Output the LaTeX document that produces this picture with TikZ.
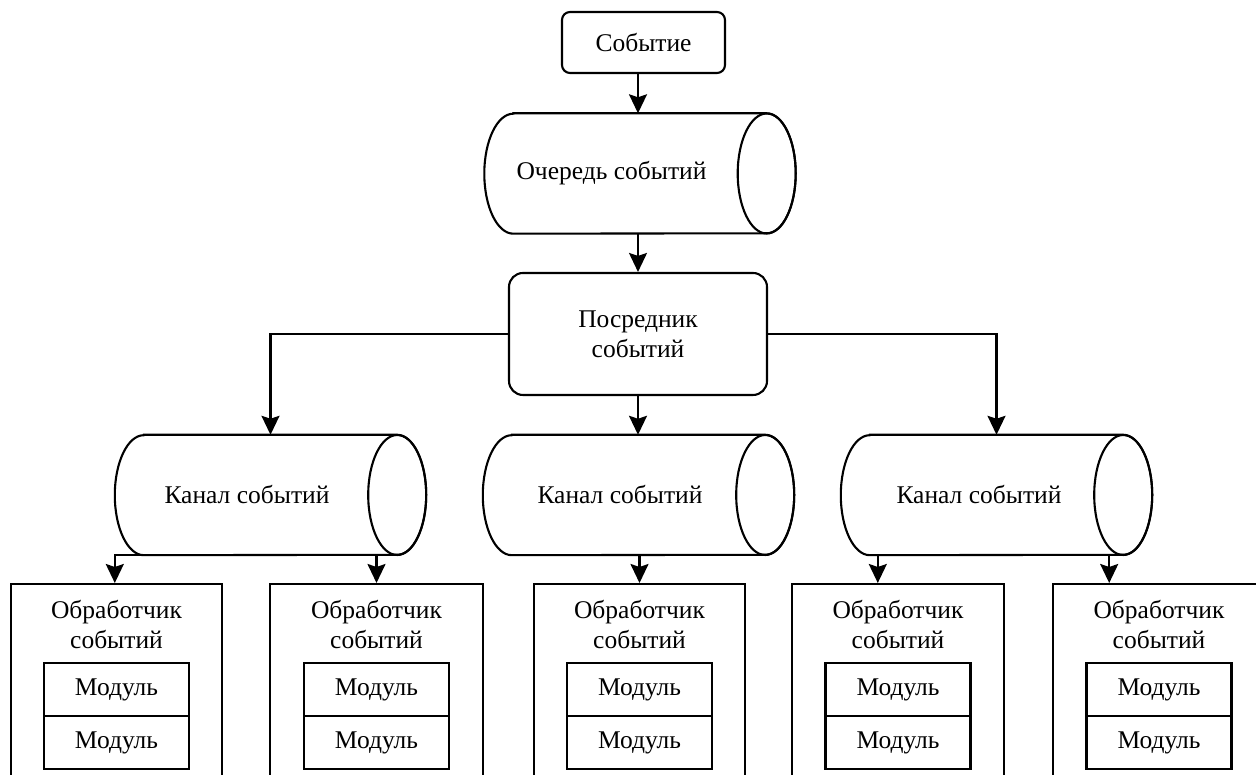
\documentclass[tikz,border=0pt]{standalone}
\usepackage{fontspec}
\setmainfont{Liberation Serif}
\usetikzlibrary{arrows.meta,calc}
\tikzset{
  ln/.style={line width=2.1pt},
  arr/.style={ln, -{Stealth[length=19pt,width=18pt,inset=3pt]}},
  txt/.style={font=\fontsize{25.5}{30}\selectfont, align=center, inner sep=0pt},
  evbox/.style={draw, ln, rounded corners=8pt, minimum width=163pt, minimum height=61pt, txt},
  medbox/.style={draw, ln, rounded corners=14pt, minimum width=258pt, minimum height=122pt, txt},
  cylbox/.style={minimum width=311pt, minimum height=120pt, inner sep=0pt},
  hbox/.style={draw, ln, minimum height=222pt, anchor=north, inner sep=0pt},
  modbox/.style={draw, ln, minimum width=145pt, minimum height=53pt, txt},
}
\newcommand\drawcyl[1]{%
  \draw[ln] ($(#1.north west)+(29,0)$) -- ($(#1.north east)+(-29,0)$)
     arc[start angle=90,end angle=-90,x radius=29pt,y radius=60pt]
     -- ($(#1.south west)+(29,0)$)
     arc[start angle=270,end angle=90,x radius=29pt,y radius=60pt] -- cycle;
  \draw[ln] ($(#1.east)+(-29,0)$) ellipse [x radius=29pt, y radius=60pt];
}
\begin{document}
\begin{tikzpicture}[x=1pt,y=1pt]
\useasboundingbox (0,0) rectangle (1256,775);
\clip (0,0) rectangle (1256,775);

% top
\node[evbox] (event) at (643.5,732.5) {Событие};
\node[cylbox] (q) at (640,601.5) {};
\drawcyl{q}
\node[txt] (qt) at (611.5,601.5) {Очередь событий};
\node[medbox] (med) at (638,441) {Посредник\\событий};

% channels
\node[cylbox] (c1) at (270.5,280) {};
\node[cylbox] (c2) at (638.5,280) {};
\node[cylbox] (c3) at (996.5,280) {};
\drawcyl{c1}
\drawcyl{c2}
\drawcyl{c3}
\node[txt] (c1t) at (247,280) {Канал событий};
\node[txt] (c2t) at (620,280) {Канал событий};
\node[txt] (c3t) at (979,280) {Канал событий};

% handlers
\node[hbox, minimum width=211pt] (b1) at (116.5,192) {};
\node[hbox, minimum width=213pt] (b2) at (376.5,192) {};
\node[hbox, minimum width=211pt] (b3) at (639.5,192) {};
\node[hbox, minimum width=212pt] (b4) at (898,192) {};
\node[hbox, minimum width=212pt] (b5) at (1159,192) {};
\foreach \b in {b1,b2,b3,b4,b5}{
  \node[txt, anchor=north] (\b t) at ($(\b.north)+(0,-17)$) {Обработчик\\событий};
  \node[modbox] (\b m1) at ($(\b.north)+(0,-106.5)$) {Модуль};
  \node[modbox] (\b m2) at ($(\b.north)+(0,-159.5)$) {Модуль};
}

% connectors
\draw[arr] (event.south -| med.north) -- (med.north |- q.north);
\draw[arr] (med.north |- q.south) -- (med.north);
\draw[arr] (med.west) -| (c1.north);
\draw[arr] (med.east) -| (c3.north);
\draw[arr] (med.south) -- (med.south |- c2.north);
\draw[arr] ($(c1.south west)+(29,0)$) -- (c1.south west) -- (c1.south west |- b1.north);
\draw[arr] (b2.north |- c1.south) -- (b2.north);
\draw[arr] (b3.north |- c2.south) -- (b3.north);
\coordinate (a4) at ($(c3.south west)+(37,0)$);
\coordinate (a5) at ($(c3.south east)+(-43,0)$);
\draw[arr] (a4) -- (a4 |- b4.north);
\draw[arr] (a5) -- (a5 |- b5.north);
\end{tikzpicture}
\end{document}
